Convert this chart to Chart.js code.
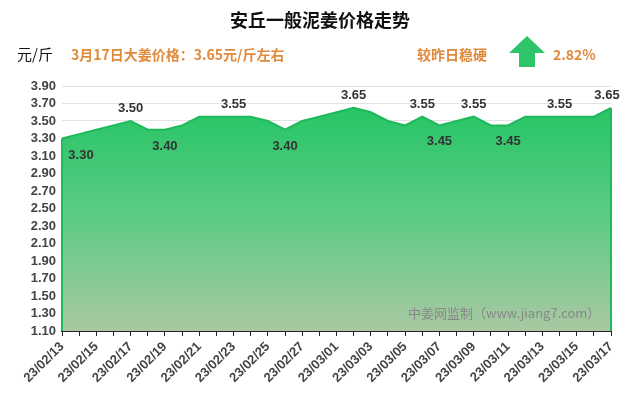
<!DOCTYPE html>
<html><head><meta charset="utf-8">
<script src="https://cdn.jsdelivr.net/npm/chart.js@4/dist/chart.umd.min.js"></script>
<style>body{margin:0;background:#fff}#w{position:relative;width:640px;height:410px}</style>
</head><body><div id="w"><canvas id="c" width="640" height="410"></canvas></div>
<script>
const dates=["23/02/13","23/02/14","23/02/15","23/02/16","23/02/17","23/02/18","23/02/19","23/02/20","23/02/21","23/02/22","23/02/23","23/02/24","23/02/25","23/02/26","23/02/27","23/02/28","23/03/01","23/03/02","23/03/03","23/03/04","23/03/05","23/03/06","23/03/07","23/03/08","23/03/09","23/03/10","23/03/11","23/03/12","23/03/13","23/03/14","23/03/15","23/03/16","23/03/17"];
const prices=[3.30,3.35,3.40,3.45,3.50,3.40,3.40,3.45,3.55,3.55,3.55,3.55,3.50,3.40,3.50,3.55,3.60,3.65,3.60,3.50,3.45,3.55,3.45,3.50,3.55,3.45,3.45,3.55,3.55,3.55,3.55,3.55,3.65];
const labelAbove=[4,10,17,21,24,29,32];
const labelBelow=[0,6,13,22,26];
const yTicks=[1.10,1.30,1.50,1.70,1.90,2.10,2.30,2.50,2.70,2.90,3.10,3.30,3.50,3.70,3.90];

const deco={id:'deco',afterDraw(ch){
  const c=ch.ctx,x=ch.scales.x,y=ch.scales.y;
  c.save();
  c.font='bold 13px "Liberation Sans",Arial';c.fillStyle='#333';c.textAlign='center';
  labelAbove.forEach(i=>c.fillText(prices[i].toFixed(2),x.getPixelForValue(i)-(i==32?4:0),y.getPixelForValue(prices[i])-9));
  labelBelow.forEach(i=>c.fillText(prices[i].toFixed(2),x.getPixelForValue(i)+(i==0?19:0),y.getPixelForValue(prices[i])+20));
  c.strokeStyle='#22b85c';c.lineWidth=2;
  c.beginPath();c.moveTo(ch.chartArea.right,y.getPixelForValue(prices[32]));c.lineTo(ch.chartArea.right,ch.chartArea.bottom);c.stroke();
  c.beginPath();c.moveTo(ch.chartArea.left,y.getPixelForValue(prices[0]));c.lineTo(ch.chartArea.left,ch.chartArea.bottom);c.stroke();
  c.textAlign='center';c.fillStyle='#111';c.font='bold 18px "Noto Sans CJK SC"';
  c.fillText('安丘一般泥姜价格走势',320,27);
  c.textAlign='left';c.font='15px "Noto Sans CJK SC"';c.fillText('元/斤',17,60);
  c.fillStyle='#e08a3c';c.font='bold 14px "Noto Sans CJK SC"';
  c.fillText('3月17日大姜价格：3.65元/斤左右',71,60);
  c.fillText('较昨日稳硬',417,60);
  c.fillText('2.82%',553,60);
  c.fillStyle='#2ec46a';c.beginPath();
  c.moveTo(527,36);c.lineTo(545,53);c.lineTo(535,53);c.lineTo(535,67);c.lineTo(519,67);c.lineTo(519,53);c.lineTo(509,53);c.closePath();c.fill();
  c.fillStyle='#888';c.font='13px "Noto Sans CJK SC"';c.fillText('中姜网监制（www.jiang7.com）',408,318);
  c.restore();
}};
const ctx=document.getElementById('c').getContext('2d');
const g=ctx.createLinearGradient(0,100,0,331);
g.addColorStop(0,'#22c563');g.addColorStop(0.5,'#5ccb85');g.addColorStop(1,'#a9c8a2');
new Chart(ctx,{type:'line',
data:{labels:dates,datasets:[{data:prices,borderColor:'#1fb85a',borderWidth:2,backgroundColor:g,fill:'start',pointRadius:0,tension:0}]},
options:{responsive:false,animation:false,
layout:{padding:{left:4,right:29,top:86,bottom:0}},
plugins:{legend:{display:false},tooltip:{enabled:false}},
scales:{
 x:{afterFit:a=>{a.height=79},grid:{display:true,drawOnChartArea:false,color:'#222',tickLength:5},border:{color:'#222',width:2},
  ticks:{autoSkip:false,maxRotation:45,minRotation:45,color:'#444',font:{size:13,weight:'bold',family:'"Liberation Sans"'},
   callback:(v,i)=>i%2==0?dates[i]:''}},
 y:{min:1.10,max:3.90,afterFit:a=>{a.width=58},afterBuildTicks:a=>{a.ticks=yTicks.map(v=>({value:v}))},
  grid:{color:'#e2e2e2',drawTicks:false},border:{display:false},
  ticks:{autoSkip:false,color:'#444',padding:6,font:{size:13,weight:'bold',family:'"Liberation Sans"'},callback:v=>v.toFixed(2)}}
}},plugins:[deco]});
</script></body></html>
